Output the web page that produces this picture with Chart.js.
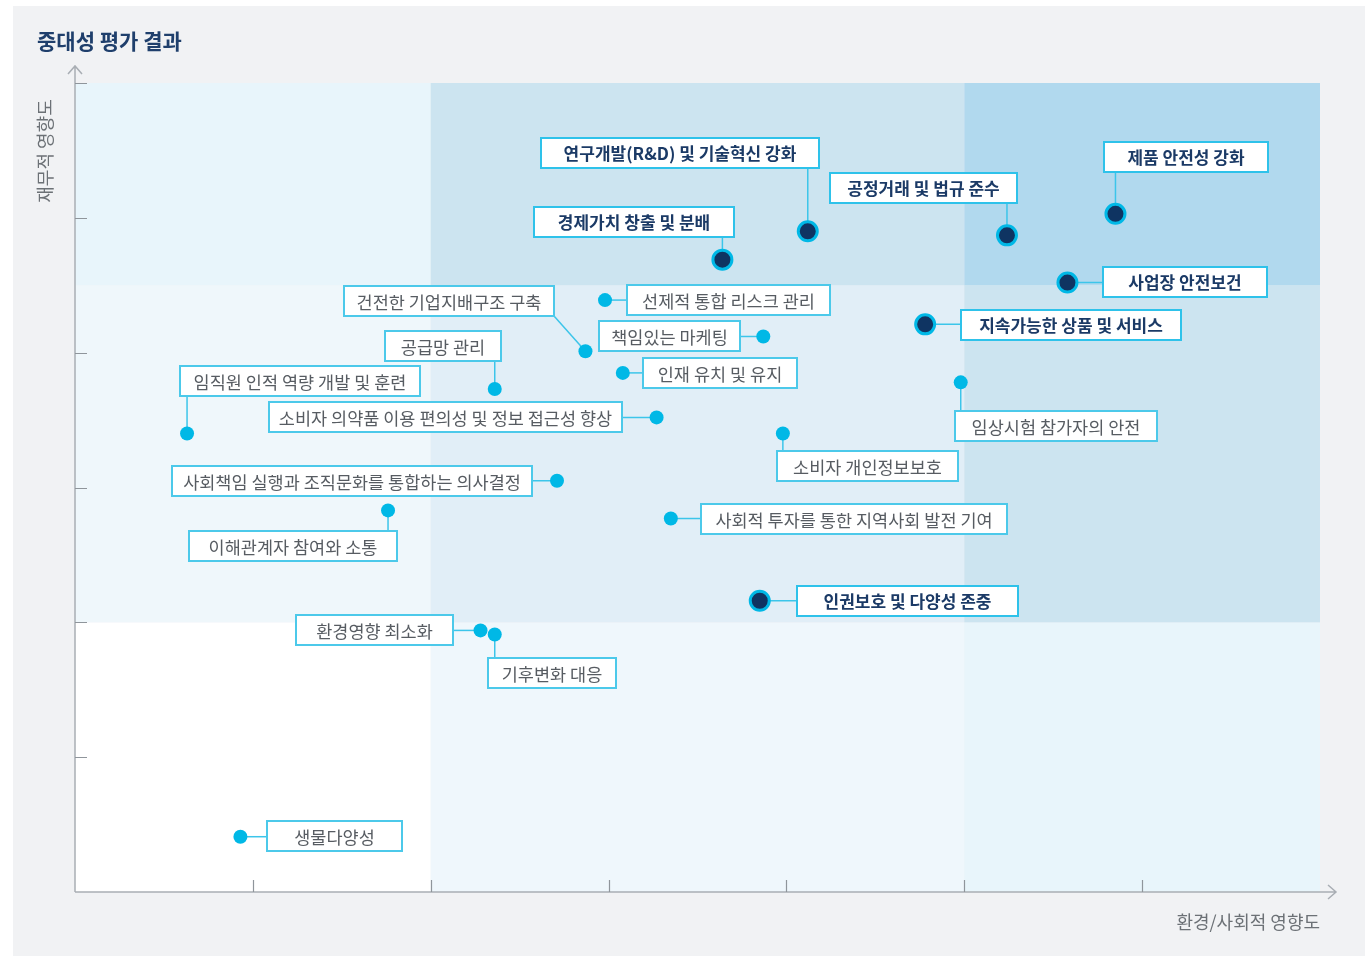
<!DOCTYPE html>
<html><head><meta charset="utf-8">
<script src="https://cdn.jsdelivr.net/npm/chart.js@4"></script>
<style>html,body{margin:0;padding:0;background:#fff}#wrap{width:1365px;height:956px;position:relative}</style>
</head><body><div id="wrap"><canvas id="c" width="1365" height="956"></canvas></div>
<script>
// ---- data ----
const issues = [
  '연구개발(R&D) 및 기술혁신 강화',
  '경제가치 창출 및 분배',
  '공정거래 및 법규 준수',
  '제품 안전성 강화',
  '사업장 안전보건',
  '지속가능한 상품 및 서비스',
  '인권보호 및 다양성 존중',
  '건전한 기업지배구조 구축',
  '선제적 통합 리스크 관리',
  '책임있는 마케팅',
  '인재 유치 및 유지',
  '공급망 관리',
  '임직원 인적 역량 개발 및 훈련',
  '소비자 의약품 이용 편의성 및 정보 접근성 향상',
  '임상시험 참가자의 안전',
  '소비자 개인정보보호',
  '사회책임 실행과 조직문화를 통합하는 의사결정',
  '이해관계자 참여와 소통',
  '사회적 투자를 통한 지역사회 발전 기여',
  '환경영향 최소화',
  '기후변화 대응',
  '생물다양성'
];
const envSocialImpact = [4.12, 3.64, 5.24, 5.85, 5.58, 4.78, 3.85, 2.87, 2.98, 3.87, 3.08, 2.36, 0.63, 3.27, 4.98, 3.98, 2.71, 1.76, 3.35, 2.28, 2.36, 0.93];
const financialImpact = [4.90, 4.69, 4.87, 5.03, 4.52, 4.21, 2.16, 4.01, 4.39, 4.12, 3.85, 3.73, 3.40, 3.52, 3.78, 3.40, 3.05, 2.83, 2.77, 1.94, 1.91, 0.41];
const isMaterial = [true, true, true, true, true, true, true, false, false, false, false, false, false, false, false, false, false, false, false, false, false, false];
const xTickValues = [1, 2, 3, 4, 5, 6];
const yTickValues = [1, 2, 3, 4, 5, 6];
const zoneXBounds = [0, 2, 5, 7];
const zoneYBounds = [0, 2, 4.5, 6];
const chartTitle = '중대성 평가 결과';
const xAxisTitle = '환경/사회적 영향도';
const yAxisTitle = '재무적 영향도';

// ---- layout / style (not data) ----
// label box: [offset of box left from point, offset of box centre from point, box width] in px
const labelLayout = [
  [-267, -78, 278], [-188, -38, 200], [-177, -47, 187], [-11, -57, 164], [36, -1, 164],
  [36, 1, 220], [37, 0, 221], [-241, -50, 210], [22, 0, 203], [-164, 0, 141],
  [20, 0, 154], [-110, -43, 116], [-7, -53, 240], [-388, 0, 353], [-6, 44, 202],
  [-6, 32, 181], [-385, 0, 360], [-199, 36, 208], [30, 0, 306], [-185, 0, 157],
  [-7, 39, 128], [27, -1, 135]
];
// zone colours [row from bottom][col from left]
const zoneColors = [
  ['#ffffff', '#eff7fc', '#e8f5fb'],
  ['#eff7fb', '#e1eef7', '#cce4f0'],
  ['#e8f5fb', '#cce4f0', '#b1d9ee']
];
const FONT = "'Noto Sans CJK KR', 'Noto Sans', sans-serif";
const CYAN = '#00b8e6';
const LINE = '#3cc5ea';
const NAVY = '#0f3462';

const matrixPlugin = {
  id: 'matrix',
  beforeDraw(chart) {
    const ctx = chart.ctx;
    ctx.save();
    ctx.fillStyle = '#ffffff';
    ctx.fillRect(0, 0, chart.width, chart.height);
    ctx.fillStyle = '#f1f2f4';
    ctx.fillRect(13, 6, chart.width - 13, chart.height - 6);
    ctx.fillStyle = '#1f3f6c';
    ctx.font = 'bold 21px ' + FONT;
    ctx.textBaseline = 'middle';
    ctx.textAlign = 'left';
    ctx.fillText(chartTitle, 37, 41);
    ctx.restore();
  },
  beforeDatasetsDraw(chart) {
    const ctx = chart.ctx;
    const xs = chart.scales.x, ys = chart.scales.y;
    ctx.save();
    // zones
    for (let r = 0; r < 3; r++) {
      for (let c = 0; c < 3; c++) {
        const x0 = xs.getPixelForValue(zoneXBounds[c]);
        const x1 = xs.getPixelForValue(zoneXBounds[c + 1]);
        const y0 = ys.getPixelForValue(zoneYBounds[r + 1]);
        const y1 = ys.getPixelForValue(zoneYBounds[r]);
        ctx.fillStyle = zoneColors[r][c];
        ctx.fillRect(x0, y0, x1 - x0, y1 - y0);
      }
    }
    // axes
    const ox = xs.getPixelForValue(0), oy = ys.getPixelForValue(0);
    const top = ys.getPixelForValue(6), right = xs.getPixelForValue(7);
    ctx.strokeStyle = '#a9aeb4';
    ctx.lineWidth = 1.5;
    ctx.beginPath();
    ctx.moveTo(ox, oy); ctx.lineTo(ox, top - 17);
    ctx.moveTo(ox - 7, top - 9); ctx.lineTo(ox, top - 17); ctx.lineTo(ox + 7, top - 9);
    ctx.moveTo(ox, oy); ctx.lineTo(right + 16, oy);
    ctx.moveTo(right + 8, oy - 7); ctx.lineTo(right + 16, oy); ctx.lineTo(right + 8, oy + 7);
    ctx.stroke();
    ctx.strokeStyle = '#8f959b';
    ctx.lineWidth = 1.2;
    ctx.beginPath();
    yTickValues.forEach(v => { const p = Math.round(ys.getPixelForValue(v)) + 0.5; ctx.moveTo(ox, p); ctx.lineTo(ox + 12, p); });
    xTickValues.forEach(v => { const p = Math.round(xs.getPixelForValue(v)) + 0.5; ctx.moveTo(p, oy); ctx.lineTo(p, oy - 12); });
    ctx.stroke();
    // axis titles
    ctx.fillStyle = '#6c7176';
    ctx.font = '18px ' + FONT;
    ctx.textBaseline = 'middle';
    ctx.textAlign = 'right';
    ctx.fillText(xAxisTitle, right, oy + 30);
    ctx.save();
    ctx.translate(45, top + 68);
    ctx.rotate(-Math.PI / 2);
    ctx.textAlign = 'center';
    ctx.fillText(yAxisTitle, 0, 0);
    ctx.restore();
    // leader lines + label boxes
    issues.forEach((name, i) => {
      const px = xs.getPixelForValue(envSocialImpact[i]);
      const py = ys.getPixelForValue(financialImpact[i]);
      const [dx, dy, w] = labelLayout[i];
      const h = 30;
      const bx = Math.round(px + dx), by = Math.round(py + dy - h / 2);
      let tx, ty;
      if (px >= bx && px <= bx + w) { tx = px; ty = (by > py) ? by : by + h; }
      else if (py >= by && py <= by + h) { ty = py; tx = (bx > px) ? bx : bx + w; }
      else { tx = (bx > px) ? bx : bx + w; ty = (by > py) ? by : by + h; }
      ctx.strokeStyle = LINE;
      ctx.lineWidth = 1.5;
      ctx.beginPath(); ctx.moveTo(px, py); ctx.lineTo(tx, ty); ctx.stroke();
      ctx.fillStyle = '#ffffff';
      ctx.fillRect(bx, by, w, h);
      ctx.strokeStyle = isMaterial[i] ? '#2ec2ea' : '#4cc9ea';
      ctx.lineWidth = 2;
      ctx.strokeRect(bx, by, w, h);
      ctx.fillStyle = isMaterial[i] ? '#1b3a66' : '#575c62';
      ctx.font = (isMaterial[i] ? 'bold 17px ' : '17.5px ') + FONT;
      ctx.textAlign = 'center';
      ctx.textBaseline = 'middle';
      ctx.fillText(name, bx + w / 2, by + h / 2 + 1);
    });
    ctx.restore();
  }
};

new Chart(document.getElementById('c'), {
  type: 'scatter',
  data: {
    datasets: [{
      data: issues.map((n, i) => ({ x: envSocialImpact[i], y: financialImpact[i] })),
      pointRadius: ctx => isMaterial[ctx.dataIndex] ? 9.5 : 7,
      pointHoverRadius: ctx => isMaterial[ctx.dataIndex] ? 9.5 : 7,
      pointBackgroundColor: ctx => isMaterial[ctx.dataIndex] ? NAVY : CYAN,
      pointBorderColor: CYAN,
      pointBorderWidth: ctx => isMaterial[ctx.dataIndex] ? 3 : 0,
      clip: false
    }]
  },
  options: {
    responsive: false,
    devicePixelRatio: 1,
    animation: false,
    events: [],
    layout: { padding: { left: 75, top: 83, right: 45, bottom: 64 } },
    plugins: { legend: { display: false }, tooltip: { enabled: false }, title: { display: false } },
    scales: {
      x: { type: 'linear', min: 0, max: 7, display: false },
      y: { type: 'linear', min: 0, max: 6, display: false }
    }
  },
  plugins: [matrixPlugin]
});
</script>
</body></html>
